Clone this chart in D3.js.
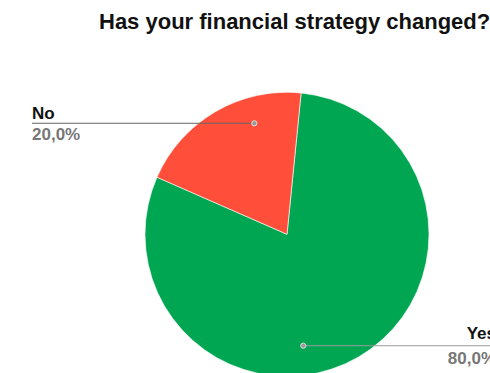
<!DOCTYPE html>
<html>
<head>
<meta charset="utf-8">
<script src="https://cdn.jsdelivr.net/npm/d3@7"></script>
<style>
  html, body { margin: 0; padding: 0; background: #fff; overflow: hidden; }
  svg { display: block; font-family: "Liberation Sans", Arial, Helvetica, sans-serif; }
</style>
</head>
<body>
<svg id="chart" width="490" height="373"></svg>
<script>
// Survey answers and their shares (percent)
const categories = ["Yes", "No"];
const shares = [80.0, 20.0];
const sliceColors = ["#00a651", "#ff4f3b"];
const valueLabels = ["80,0%", "20,0%"];

const W = 490, H = 373;
const cx = 287, cy = 234.3, radius = 142;

// Where each leader line starts: angle (degrees clockwise from 12 o'clock) and radial fraction
const leader = {
  Yes: { angle: 171.7, frac: 0.793, side: "right", nameDy: -7, valueDy: 18.6, stroke: "#9a9a9a" },
  No:  { angle: -16.4, frac: 0.815, side: "left",  nameDy: -4, valueDy: 16.8, stroke: "#666" }
};

const svg = d3.select("#chart");

svg.append("text")
  .attr("x", 99)
  .attr("y", 28.5)
  .attr("font-size", 22)
  .attr("font-weight", "bold")
  .attr("fill", "#111")
  .text("Has your financial strategy changed?");

const data = categories.map((c, i) => ({ name: c, value: shares[i], color: sliceColors[i], label: valueLabels[i] }));

// First slice starts slightly clockwise of 12 o'clock
const start = 5.7 * Math.PI / 180;
const pie = d3.pie().sort(null).value(d => d.value)
  .startAngle(start).endAngle(start + 2 * Math.PI);
const arcs = pie(data);

const arc = d3.arc().innerRadius(0).outerRadius(radius);
const g = svg.append("g").attr("transform", `translate(${cx},${cy})`);

g.selectAll("path.slice")
  .data(arcs)
  .join("path")
  .attr("class", "slice")
  .attr("d", arc)
  .attr("fill", d => d.data.color)
  .attr("stroke", "#fff")
  .attr("stroke-width", 0.6);

const fontSize = 17;

arcs.forEach(a => {
  const L = leader[a.data.name];
  const [ax, ay] = d3.pointRadial(L.angle * Math.PI / 180, radius * L.frac);
  const px = cx + ax, py = cy + ay;
  const rightSide = L.side === "right";
  const endX = rightSide ? W + 10 : 32;
  const textX = rightSide ? 496 : 32;
  const anchor = rightSide ? "end" : "start";

  svg.append("line")
    .attr("x1", px).attr("y1", py)
    .attr("x2", endX).attr("y2", py)
    .attr("stroke", L.stroke)
    .attr("stroke-width", 1);

  svg.append("circle")
    .attr("cx", px).attr("cy", py).attr("r", 2.6)
    .attr("fill", "#999")
    .attr("stroke", "#ddd")
    .attr("stroke-width", 1);

  svg.append("text")
    .attr("x", textX).attr("y", py + L.nameDy)
    .attr("text-anchor", anchor)
    .attr("font-size", fontSize)
    .attr("font-weight", "bold")
    .attr("fill", "#111")
    .text(a.data.name);

  svg.append("text")
    .attr("x", textX).attr("y", py + L.valueDy)
    .attr("text-anchor", anchor)
    .attr("font-size", fontSize)
    .attr("font-weight", "bold")
    .attr("fill", "#777")
    .text(a.data.label);
});
</script>
</body>
</html>
